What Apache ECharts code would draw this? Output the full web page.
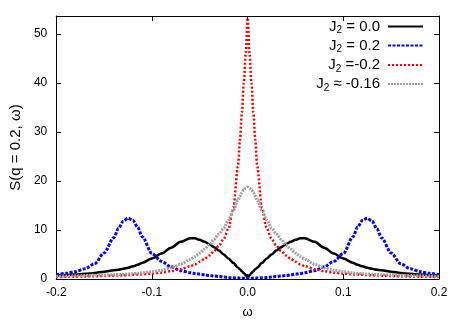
<!DOCTYPE html>
<html>
<head>
<meta charset="utf-8">
<script src="https://cdn.jsdelivr.net/npm/echarts@6/dist/echarts.min.js"></script>
<style>html,body{margin:0;padding:0;background:#fff}#c{width:463px;height:324px}</style>
</head>
<body>
<div id="c"></div>
<script>
const omega = [-0.2,-0.19,-0.18,-0.17,-0.16,-0.15,-0.14,-0.135,-0.13,-0.125,-0.12,-0.115,-0.11,-0.1,-0.09,-0.08,-0.07,-0.06,-0.055,-0.05,-0.045,-0.04,-0.035,-0.03,-0.025,-0.02,-0.015,-0.01,-0.008,-0.006,-0.004,-0.002,
  0,0.002,0.004,0.006,0.008,0.01,0.015,0.02,0.025,0.03,0.035,0.04,0.045,0.05,0.055,0.06,0.07,0.08,0.09,0.1,0.11,0.115,0.12,0.125,0.13,0.135,0.14,0.15,0.16,0.17,0.18,0.19,0.2];
const sJ00 = [0.7,0.8,0.9,1.05,1.25,1.5,1.8,1.9,2.1,2.3,2.6,2.9,3.3,4.2,5.2,6.4,7.6,8.3,8.3,8.0,7.6,7.1,6.5,5.8,5.0,4.2,3.3,2.3,2.0,1.6,1.2,0.8,
  0.3,0.8,1.2,1.6,2.0,2.3,3.3,4.2,5.0,5.8,6.5,7.1,7.6,8.0,8.3,8.3,7.6,6.4,5.2,4.2,3.3,2.9,2.6,2.3,2.1,1.9,1.8,1.5,1.25,1.05,0.9,0.8,0.7];
const sJ02 = [0.9,1.15,1.5,2.1,3.1,5.3,8.4,10.3,11.8,12.4,12.0,10.6,8.6,5.2,3.6,2.5,1.7,1.3,1.1,1.0,0.85,0.7,0.6,0.5,0.4,0.3,0.25,0.2,0.18,0.17,0.16,0.15,
  0.15,0.15,0.16,0.17,0.18,0.2,0.25,0.3,0.4,0.5,0.6,0.7,0.85,1.0,1.1,1.3,1.7,2.5,3.6,5.2,8.6,10.6,12.0,12.4,11.8,10.3,8.4,5.3,3.1,2.1,1.5,1.15,0.9];
const sJm02 = [0.4,0.44,0.48,0.52,0.57,0.62,0.68,0.72,0.75,0.8,0.85,0.9,0.95,1.1,1.3,1.6,2.0,2.6,3.0,3.5,4.1,4.8,5.7,6.8,8.2,10.3,14.5,23,28.5,34,40,46,
  53.3,46,40,34,28.5,23,14.5,10.3,8.2,6.8,5.7,4.8,4.1,3.5,3.0,2.6,2.0,1.6,1.3,1.1,0.95,0.9,0.85,0.8,0.75,0.72,0.68,0.62,0.57,0.52,0.48,0.44,0.4];
const sJm016 = [0.55,0.6,0.65,0.7,0.75,0.8,0.88,0.92,0.96,1.02,1.08,1.15,1.25,1.5,1.8,2.3,3.0,4.0,4.6,5.3,6.1,7.0,8.1,9.2,10.4,12.0,14.0,16.1,16.9,17.6,18.2,18.6,
  18.8,18.6,18.2,17.6,16.9,16.1,14.0,12.0,10.4,9.2,8.1,7.0,6.1,5.3,4.6,4.0,3.0,2.3,1.8,1.5,1.25,1.15,1.08,1.02,0.96,0.92,0.88,0.8,0.75,0.7,0.65,0.6,0.55];
const seriesNames = ['J2 = 0.0','J2 = 0.2','J2 =-0.2','J2 ~ -0.16'];
const legendRest = [' = 0.0',' = 0.2',' =-0.2',' \u2248 -0.16'];
const xTickLabels = {'-0.2':'-0.2','-0.1':'-0.1','0':'0.0','0.1':'0.1','0.2':'0.2'};
const yTickLabels = ['0','10','20','30','40','50'];

const FONT = 'Liberation Sans';
function pairs(ys){ return omega.map((x,i)=>[x,ys[i]]); }
const styles = [
  {color:'#000000', width:2.5, type:'solid'},
  {color:'#0000ff', width:3, type:[3,1.5]},
  {color:'#ff0000', width:2.5, type:[2,2]},
  {color:'#a0a0a0', width:3, type:[2,1]}
];
const dataSets = [sJ00, sJ02, sJm02, sJm016];
const legendTops = [19, 38, 57.5, 76.5];

const chart = echarts.init(document.getElementById('c'), null, {renderer:'canvas'});
const axisCommon = {
  axisLine:{show:true, onZero:false, lineStyle:{color:'#000', width:1}},
  axisTick:{show:true, inside:true, length:5, lineStyle:{color:'#000'}},
  splitLine:{show:false}
};
chart.setOption({
  animation:false,
  backgroundColor:'#fff',
  textStyle:{fontFamily:FONT},
  grid:{left:47, right:24, top:16, bottom:42, containLabel:false},
  xAxis:[
    Object.assign({type:'value', min:-0.2, max:0.2, interval:0.1, position:'bottom',
      name:'\u03c9', nameLocation:'middle', nameGap:27,
      nameTextStyle:{fontFamily:FONT, fontSize:13, color:'#000'},
      axisLabel:{fontFamily:FONT, fontSize:12, color:'#000', margin:8,
        formatter:v=>{ const k = String(Math.round(v*10)/10); return xTickLabels[k] !== undefined ? xTickLabels[k] : ''; }}
    }, axisCommon),
    Object.assign({type:'value', min:-0.2, max:0.2, interval:0.1, position:'top',
      axisLabel:{show:false}}, axisCommon)
  ],
  yAxis:[
    Object.assign({type:'value', min:0, max:53.7, interval:10, position:'left',
      name:'S(q = 0.2, \u03c9)', nameLocation:'middle', nameGap:30, nameRotate:90,
      nameTextStyle:{fontFamily:FONT, fontSize:15, color:'#000'},
      axisLabel:{fontFamily:FONT, fontSize:12, color:'#000', margin:9, showMaxLabel:false,
        formatter:v=>{ const i = Math.round(v/10); return (Math.abs(v - i*10) < 1e-6 && yTickLabels[i] !== undefined) ? yTickLabels[i] : ''; }}
    }, axisCommon),
    Object.assign({type:'value', min:0, max:53.7, interval:10, position:'right',
      axisLabel:{show:false}}, axisCommon)
  ],
  legend: seriesNames.map((n,i)=>({
    data:[n], right:39, top:legendTops[i], orient:'horizontal', align:'right',
    padding:0, itemWidth:35, itemHeight:14, selectedMode:false,
    itemStyle:{opacity:0, borderWidth:0},
    formatter: name => '{a|J}{s|2}{a|' + legendRest[seriesNames.indexOf(name)] + '}',
    textStyle:{fontFamily:FONT, color:'#000', padding:[0,3,0,0],
      rich:{
        a:{fontFamily:FONT, fontSize:15, color:'#000', lineHeight:18, verticalAlign:'middle'},
        s:{fontFamily:FONT, fontSize:10, color:'#000', lineHeight:9, verticalAlign:'bottom'}
      }}
  })),
  series: dataSets.map((d,i)=>({
    name:seriesNames[i], type:'line', data:pairs(d), symbol:'none',
    smooth:0.3, smoothMonotone:'x', clip:true, z:2+i,
    lineStyle:{color:styles[i].color, width:styles[i].width, type:styles[i].type, cap:'butt'},
    itemStyle:{color:styles[i].color}
  }))
});
</script>
</body>
</html>
